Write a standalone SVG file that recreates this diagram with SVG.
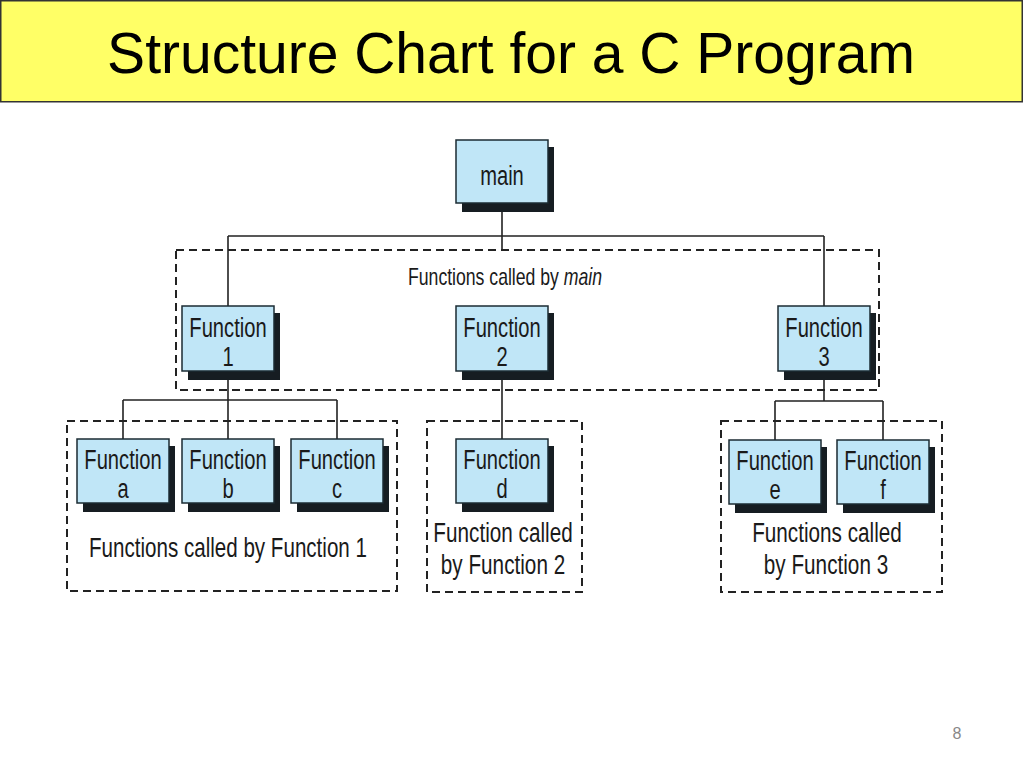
<svg xmlns="http://www.w3.org/2000/svg" width="1024" height="768" viewBox="0 0 1024 768">
  <style>
    .title { font-family: "Liberation Sans", Arial, sans-serif; font-size: 57px; fill: #000; }
    .shadow { fill: #161d22; }
    .box { fill: #c0e6f7; stroke: #1b2b33; stroke-width: 1.5; }
    .ntxt { font-family: "Liberation Sans", Arial, sans-serif; font-size: 28px; fill: #1a1a1a; text-anchor: middle; }
    .lbl { font-family: "Liberation Sans", Arial, sans-serif; font-size: 28px; fill: #1a1a1a; text-anchor: middle; }
    .group { fill: none; stroke: #222; stroke-width: 2; stroke-dasharray: 8 5; }
    .wire { fill: none; stroke: #222; stroke-width: 1.6; }
  </style>

  <rect width="1024" height="768" fill="#fff"/>

  <!-- title banner -->
  <g id="title">
    <rect x="0.75" y="0.75" width="1021.5" height="101" fill="#ffff66" stroke="#333" stroke-width="1.5"/>
    <text class="title" x="511" y="73" text-anchor="middle">Structure Chart for a C Program</text>
  </g>

  <!-- dashed call groups -->
  <g id="groups">
    <rect class="group" x="176" y="250" width="703" height="140"/>
    <rect class="group" x="67" y="421" width="330" height="170"/>
    <rect class="group" x="427" y="421" width="155" height="171"/>
    <rect class="group" x="721" y="421" width="221" height="171"/>
  </g>

  <!-- call lines -->
  <g id="connectors">
    <path class="wire" d="M502 203 V249 M228 236 H824 M228 236 V306 M824 236 V306"/>
    <path class="wire" d="M228 371 V400 M123 400 H337 M123 400 V439 M228 400 V439 M337 400 V439"/>
    <path class="wire" d="M502 371 V439"/>
    <path class="wire" d="M824 371 V401 M775 401 H883 M775 401 V440 M883 401 V440"/>
  </g>

  <!-- group captions -->
  <g id="captions">
    <text class="lbl" style="font-size:24px" transform="translate(505 285) scale(0.735 1)">Functions called by <tspan font-style="italic">main</tspan></text>
    <text class="lbl" transform="translate(228 557) scale(0.735 1)">Functions called by Function 1</text>
    <text class="lbl" transform="translate(503 542) scale(0.74 1)">Function called</text>
    <text class="lbl" transform="translate(503 574) scale(0.74 1)">by Function 2</text>
    <text class="lbl" transform="translate(827 542) scale(0.74 1)">Functions called</text>
    <text class="lbl" transform="translate(826 574) scale(0.74 1)">by Function 3</text>
  </g>

  <!-- nodes -->
  <g id="node-main">
    <rect class="shadow" x="462" y="147" width="92" height="65"/>
    <rect class="box" x="456" y="140" width="92" height="63"/>
    <text class="ntxt" transform="translate(502 185) scale(0.72 1)">main</text>
  </g>

  <g id="node-f1">
    <rect class="shadow" x="188" y="313" width="92" height="67"/>
    <rect class="box" x="182" y="306" width="92" height="65"/>
    <text class="ntxt" transform="translate(228 337) scale(0.72 1)">Function</text>
    <text class="ntxt" transform="translate(228 366) scale(0.72 1)">1</text>
  </g>
  <g id="node-f2">
    <rect class="shadow" x="462" y="313" width="92" height="67"/>
    <rect class="box" x="456" y="306" width="92" height="65"/>
    <text class="ntxt" transform="translate(502 337) scale(0.72 1)">Function</text>
    <text class="ntxt" transform="translate(502 366) scale(0.72 1)">2</text>
  </g>
  <g id="node-f3">
    <rect class="shadow" x="784" y="313" width="92" height="67"/>
    <rect class="box" x="778" y="306" width="92" height="65"/>
    <text class="ntxt" transform="translate(824 337) scale(0.72 1)">Function</text>
    <text class="ntxt" transform="translate(824 366) scale(0.72 1)">3</text>
  </g>

  <g id="node-fa">
    <rect class="shadow" x="83" y="446" width="92" height="66"/>
    <rect class="box" x="77" y="439" width="92" height="64"/>
    <text class="ntxt" transform="translate(123 469) scale(0.72 1)">Function</text>
    <text class="ntxt" transform="translate(123 498) scale(0.72 1)">a</text>
  </g>
  <g id="node-fb">
    <rect class="shadow" x="188" y="446" width="92" height="66"/>
    <rect class="box" x="182" y="439" width="92" height="64"/>
    <text class="ntxt" transform="translate(228 469) scale(0.72 1)">Function</text>
    <text class="ntxt" transform="translate(228 498) scale(0.72 1)">b</text>
  </g>
  <g id="node-fc">
    <rect class="shadow" x="297" y="446" width="92" height="66"/>
    <rect class="box" x="291" y="439" width="92" height="64"/>
    <text class="ntxt" transform="translate(337 469) scale(0.72 1)">Function</text>
    <text class="ntxt" transform="translate(337 498) scale(0.72 1)">c</text>
  </g>
  <g id="node-fd">
    <rect class="shadow" x="462" y="446" width="92" height="66"/>
    <rect class="box" x="456" y="439" width="92" height="64"/>
    <text class="ntxt" transform="translate(502 469) scale(0.72 1)">Function</text>
    <text class="ntxt" transform="translate(502 498) scale(0.72 1)">d</text>
  </g>
  <g id="node-fe">
    <rect class="shadow" x="735" y="447" width="92" height="66"/>
    <rect class="box" x="729" y="440" width="92" height="64"/>
    <text class="ntxt" transform="translate(775 470) scale(0.72 1)">Function</text>
    <text class="ntxt" transform="translate(775 499) scale(0.72 1)">e</text>
  </g>
  <g id="node-ff">
    <rect class="shadow" x="843" y="447" width="92" height="66"/>
    <rect class="box" x="837" y="440" width="92" height="64"/>
    <text class="ntxt" transform="translate(883 470) scale(0.72 1)">Function</text>
    <text class="ntxt" transform="translate(883 499) scale(0.72 1)">f</text>
  </g>

  <!-- slide number -->
  <text x="957" y="739" font-family="'Liberation Sans', Arial, sans-serif" font-size="16" fill="#888" text-anchor="middle">8</text>
</svg>
